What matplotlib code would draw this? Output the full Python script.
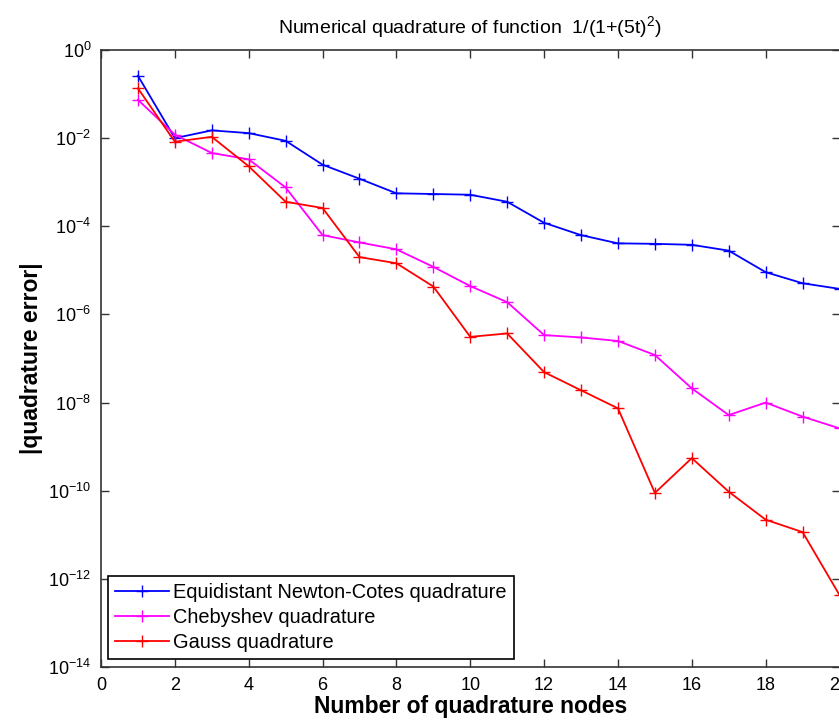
import matplotlib
matplotlib.use('Agg')
import matplotlib.pyplot as plt
from matplotlib.ticker import FixedLocator, NullLocator

# Number of quadrature nodes
nodes = list(range(1, 21))

# |quadrature error|
newton_cotes = [2.6e-1, 1.0e-2, 1.5e-2, 1.3e-2, 8.7e-3, 2.5e-3, 1.2e-3, 5.6e-4, 5.4e-4, 5.2e-4,
                3.6e-4, 1.2e-4, 6.3e-5, 4.1e-5, 4.0e-5, 3.8e-5, 2.8e-5, 9.1e-6, 5.1e-6, 3.8e-6]
chebyshev = [7.4e-2, 1.2e-2, 4.6e-3, 3.3e-3, 7.6e-4, 6.3e-5, 4.3e-5, 3.0e-5, 1.2e-5, 4.4e-6,
             1.9e-6, 3.4e-7, 3.0e-7, 2.5e-7, 1.2e-7, 2.1e-8, 5.2e-9, 1.0e-8, 4.8e-9, 2.6e-9]
gauss = [1.35e-1, 8.3e-3, 1.07e-2, 2.3e-3, 3.6e-4, 2.6e-4, 2.0e-5, 1.45e-5, 4.3e-6, 3.1e-7,
         3.7e-7, 4.9e-8, 1.9e-8, 7.4e-9, 8.9e-11, 5.5e-10, 9.5e-11, 2.2e-11, 1.15e-11, 4.3e-13]

x_ticks = list(range(0, 21, 2))
y_ticks = [10.0 ** (-k) for k in range(0, 15, 2)]

plt.rcParams['font.family'] = ['Liberation Sans', 'DejaVu Sans']
plt.rcParams['mathtext.fontset'] = 'custom'
plt.rcParams['mathtext.rm'] = 'Liberation Sans'
plt.rcParams['mathtext.it'] = 'Liberation Sans'
plt.rcParams['axes.unicode_minus'] = False

W, H = 839, 721
fig = plt.figure(figsize=(W / 100, H / 100), dpi=100)
left, right, top, bottom = 101, 839.5, 50, 667
ax = fig.add_axes([left / W, (H - bottom) / H, (right - left) / W, (bottom - top) / H])

ax.semilogy(nodes, newton_cotes, color='blue', marker='+', markersize=9, lw=1.3,
            label='Equidistant Newton-Cotes quadrature')
ax.semilogy(nodes, chebyshev, color='magenta', marker='+', markersize=9, lw=1.3,
            label='Chebyshev quadrature')
ax.semilogy(nodes, gauss, color='red', marker='+', markersize=9, lw=1.3,
            label='Gauss quadrature')

ax.set_xlim(0, 20)
ax.set_ylim(1e-14, 1)
ax.xaxis.set_major_locator(FixedLocator(x_ticks))
ax.yaxis.set_major_locator(FixedLocator(y_ticks))
ax.yaxis.set_minor_locator(NullLocator())
ax.tick_params(direction='in', length=6, width=1, top=True, right=True,
               labelsize=13, colors='#333333', labelcolor='black', pad=7)
for s in ax.spines.values():
    s.set_color('#333333')
    s.set_linewidth(1.2)

ax.set_title('Numerical quadrature of function  1/(1+(5t)$^{2}$)', fontsize=14, pad=12)
ax.set_xlabel('Number of quadrature nodes', fontsize=16.5, fontweight='bold', labelpad=1)
ax.set_ylabel('|quadrature error|', fontsize=16.5, fontweight='bold', labelpad=4)

leg = ax.legend(loc='lower left', bbox_to_anchor=(7 / 738, 8 / 617), borderaxespad=0,
                fontsize=14.4, fancybox=False, framealpha=1, edgecolor='black',
                handlelength=2.7, handletextpad=0.2, labelspacing=0.3, borderpad=0.35)
leg.get_frame().set_linewidth(1.2)

fig.savefig('out.png', dpi=100)
